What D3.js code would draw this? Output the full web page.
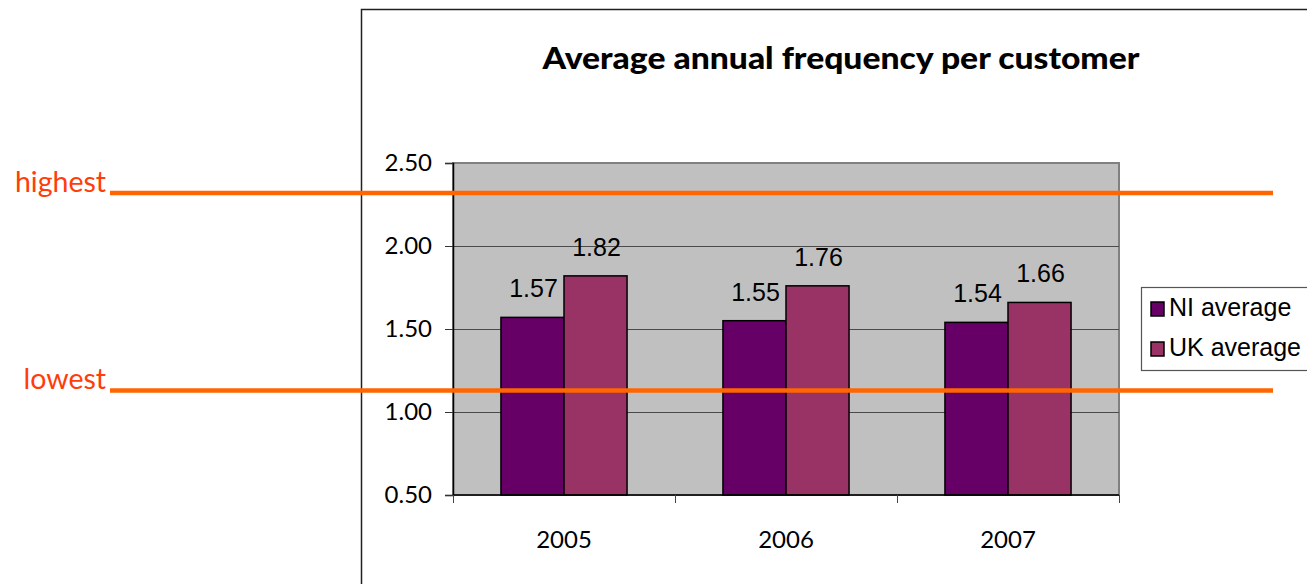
<!DOCTYPE html>
<html>
<head>
<meta charset="utf-8">
<script src="https://cdn.jsdelivr.net/npm/d3@7"></script>
<style>
  html, body { margin: 0; padding: 0; background: #fff; }
  svg { display: block; }
</style>
</head>
<body>
<svg id="chart" width="1307" height="584"></svg>
<script>
// Average annual frequency per customer, by year
const years = ["2005", "2006", "2007"];
const seriesNames = ["NI average", "UK average"];
const niAverage = [1.57, 1.55, 1.54];
const ukAverage = [1.82, 1.76, 1.66];
const yTicks = [0.5, 1.0, 1.5, 2.0, 2.5];
// reference band drawn across the chart
const bandLabels = ["highest", "lowest"];
const bandValues = [2.32, 1.13];

const colors = ["#660066", "#993366"];
const seriesValues = [niAverage, ukAverage];

const svg = d3.select("#chart");
const plot = { left: 453, right: 1119, top: 163, bottom: 495 };

// outer chart frame
svg.append("path")
  .attr("d", `M361.5,584 V9.5 H1307`)
  .attr("fill", "none").attr("stroke", "#202020").attr("stroke-width", 1.5);

// title
svg.append("text")
  .attr("x", 841).attr("y", 69)
  .attr("text-anchor", "middle")
  .attr("font-family", "Lato, 'Open Sans', sans-serif")
  .attr("font-weight", 900)
  .attr("font-size", 30)
  .attr("textLength", 597)
  .attr("lengthAdjust", "spacingAndGlyphs")
  .attr("fill", "#000")
  .text("Average annual frequency per customer");

const y = d3.scaleLinear().domain([0.5, 2.5]).range([plot.bottom, plot.top]);
const x0 = d3.scaleBand().domain(years).range([plot.left, plot.right])
  .paddingInner(0.432).paddingOuter(0.216);
const x1 = d3.scaleBand().domain(seriesNames).range([0, x0.bandwidth()]);

// plot area
svg.append("rect")
  .attr("x", plot.left).attr("y", plot.top)
  .attr("width", plot.right - plot.left).attr("height", plot.bottom - plot.top)
  .attr("fill", "#c0c0c0").attr("stroke", "#808080").attr("stroke-width", 2);

// gridlines
svg.append("g").selectAll("line")
  .data(yTicks.filter(t => t > 0.5 && t < 2.5))
  .join("line")
  .attr("x1", plot.left).attr("x2", plot.right)
  .attr("y1", d => Math.round(y(d)) + 0.5).attr("y2", d => Math.round(y(d)) + 0.5)
  .attr("stroke", "#4a4a4a").attr("stroke-width", 1);

// y axis
const yAxis = svg.append("g")
  .attr("transform", `translate(${plot.left},0)`)
  .call(d3.axisLeft(y).tickValues(yTicks).tickFormat(d3.format(".2f")).tickSize(8).tickPadding(13));
yAxis.select(".domain").attr("stroke", "#000").attr("stroke-width", 1.5);
yAxis.selectAll(".tick line").attr("stroke", "#333");
yAxis.selectAll(".tick text")
  .attr("font-family", "Lato, sans-serif").attr("font-size", 24).attr("fill", "#000");

// bars
const groups = svg.append("g").selectAll("g")
  .data(years)
  .join("g")
  .attr("transform", d => `translate(${x0(d)},0)`);

groups.selectAll("rect")
  .data((d, i) => seriesNames.map((s, j) => ({ s, v: seriesValues[j][i], j })))
  .join("rect")
  .attr("x", d => x1(d.s))
  .attr("y", d => y(d.v))
  .attr("width", x1.bandwidth())
  .attr("height", d => y(0.5) - y(d.v))
  .attr("fill", d => colors[d.j])
  .attr("stroke", "#000").attr("stroke-width", 1.5);

groups.selectAll("text")
  .data((d, i) => seriesNames.map((s, j) => ({ s, v: seriesValues[j][i], j })))
  .join("text")
  .attr("x", d => x1(d.s) + x1.bandwidth() / 2 + 1)
  .attr("y", d => y(d.v) - 20)
  .attr("text-anchor", "middle")
  .attr("font-family", "'Liberation Sans', Arial, sans-serif")
  .attr("font-size", 25)
  .attr("fill", "#000")
  .text(d => d.v.toFixed(2));

// x axis
const xEdges = [plot.left, ...years.map(d => x0(d) + x0.bandwidth() / 2 + x0.step() / 2)];
svg.append("line")
  .attr("x1", plot.left).attr("x2", plot.right)
  .attr("y1", plot.bottom).attr("y2", plot.bottom)
  .attr("stroke", "#000").attr("stroke-width", 1.5);
svg.append("g").selectAll("line")
  .data(xEdges)
  .join("line")
  .attr("x1", d => Math.round(d) + 0.5).attr("x2", d => Math.round(d) + 0.5)
  .attr("y1", plot.bottom).attr("y2", plot.bottom + 8)
  .attr("stroke", "#444").attr("stroke-width", 1);
svg.append("g").selectAll("text")
  .data(years)
  .join("text")
  .attr("x", d => x0(d) + x0.bandwidth() / 2)
  .attr("y", 548)
  .attr("text-anchor", "middle")
  .attr("font-family", "Lato, sans-serif").attr("font-size", 24).attr("fill", "#000")
  .text(d => d);

// legend
const legend = svg.append("g");
legend.append("rect")
  .attr("x", 1141.5).attr("y", 287.5).attr("width", 200).attr("height", 83)
  .attr("fill", "#fff").attr("stroke", "#555").attr("stroke-width", 1.2);
seriesNames.forEach((s, i) => {
  legend.append("rect")
    .attr("x", 1151).attr("y", 302 + i * 40).attr("width", 13).attr("height", 14)
    .attr("fill", colors[i]).attr("stroke", "#000").attr("stroke-width", 1.5);
  legend.append("text")
    .attr("x", 1169).attr("y", 316 + i * 40)
    .attr("font-family", "'Liberation Sans', Arial, sans-serif")
    .attr("font-size", 25).attr("fill", "#000")
    .text(s);
});

// highest / lowest reference lines
const bands = svg.append("g");
bandValues.forEach((v, i) => {
  bands.append("line")
    .attr("x1", 110).attr("x2", 1273)
    .attr("y1", y(v)).attr("y2", y(v))
    .attr("stroke", "#ff6600").attr("stroke-width", 4.5);
  bands.append("text")
    .attr("x", 106).attr("y", y(v) - 1)
    .attr("text-anchor", "end")
    .attr("font-family", "Lato, sans-serif").attr("font-size", 28.5)
    .attr("fill", "#ff3d0a")
    .text(bandLabels[i]);
});
</script>
</body>
</html>
